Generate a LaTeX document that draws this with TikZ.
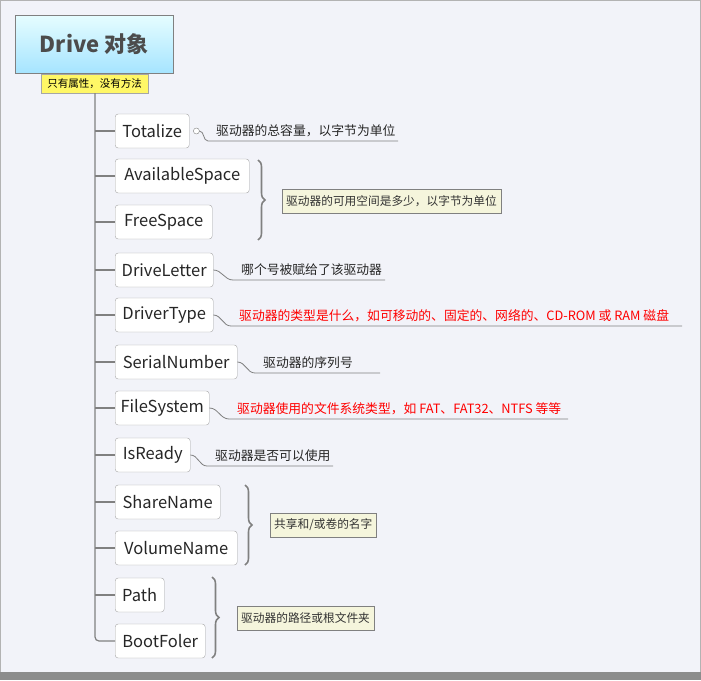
\documentclass[tikz,border=0pt]{standalone}
\usepackage{fontspec}
\setmainfont{Noto Sans CJK SC}
\usetikzlibrary{decorations.pathreplacing}
\definecolor{bg}{HTML}{F2F3F9}
\definecolor{ln}{HTML}{808080}
\definecolor{cb}{HTML}{F5F5DC}
\begin{document}
\begin{tikzpicture}[x=1pt,y=-1pt,
 child/.style={draw=ln!70,fill=white,rounded corners=3pt,minimum height=34pt,anchor=west,inner xsep=5pt,font=\fontsize{16.5}{18}\selectfont,text=black!85},
 note/.style={anchor=west,font=\fontsize{12.8}{14}\selectfont,text=black!85,inner sep=1pt},
 rnote/.style={note,text=red},
 nbox/.style={draw=ln,fill=cb,anchor=west,font=\fontsize{11.7}{13}\selectfont,text=black!80,minimum height=24pt,inner xsep=4pt},
 br/.style={draw=ln,line width=1.6pt,decorate,decoration={brace,amplitude=7pt}},
 ul/.style={draw=ln,line width=0.8pt}]
\fill[bg] (0,0) rectangle (701,680);
\draw[ln!60] (0.5,0.5) rectangle (700.5,672);
\fill[black!45] (0,672) rectangle (701,680);
\node[draw=ln,top color=blue!8!cyan!10,bottom color=blue!30!cyan!35,minimum width=158pt,minimum height=58pt,anchor=north west,font=\fontsize{22}{24}\selectfont\bfseries,text=black!70] (root) at (15,15) {Drive 对象};
\node[draw=ln!70,fill=yellow!60,anchor=north west,minimum width=107pt,minimum height=19pt,inner sep=1pt,font=\fontsize{10.5}{12}\selectfont] (lab) at (41,74) {只有属性，没有方法};
\coordinate (t0) at (95,93);
\foreach \n/\t/\y/\w in {a/Totalize/131/74,b/AvailableSpace/176/134,c/FreeSpace/222/97,d/DriveLetter/270/98,e/DriverType/315/98,f/SerialNumber/362/122,g/FileSystem/408/94,h/IsReady/455/75,i/ShareName/502/105,j/VolumeName/548/122,k/Path/595/49}{
 \node[child,minimum width=\w pt] (\n) at (115,\y) {\t};
 \draw[ln,line width=1.2pt] (95,\y) -- (\n.west);
}
\node[child,minimum width=90pt] (l) at (115,641) {BootFoler};
\draw[ln,line width=1.2pt,rounded corners=4pt] (t0) |- (l.west);
% underline notes
\node[note] (na) at (215,131) {驱动器的总容量，以字节为单位};
\draw[ln,fill=white] (a.east) ++(7,0) circle (3pt);
\draw[ul] ([xshift=10pt]a.east) to[out=0,in=180] (208,141) -- (398,141);
\node[note] (nd) at (240,270) {哪个号被赋给了该驱动器};
\draw[ul] (d.east) to[out=0,in=180] (233,280) -- (385,280);
\node[rnote] (ne) at (238,316) {驱动器的类型是什么，如可移动的、固定的、网络的、CD-ROM 或 RAM 磁盘};
\draw[ul] (e.east) to[out=0,in=180] (231,326) -- (682,326);
\node[note] (nf) at (262,363) {驱动器的序列号};
\draw[ul] (f.east) to[out=0,in=180] (255,373) -- (380,373);
\node[rnote] (ng) at (236,409) {驱动器使用的文件系统类型，如 FAT、FAT32、NTFS 等等};
\draw[ul] (g.east) to[out=0,in=180] (229,419) -- (568,419);
\node[note] (nh) at (214,456) {驱动器是否可以使用};
\draw[ul] (h.east) to[out=0,in=180] (207,466) -- (333,466);
% braces
\draw[br] (258,160) -- (258,240);
\node[nbox] (nb) at (282,201) {驱动器的可用空间是多少，以字节为单位};
\draw[br] (245,485) -- (245,565);
\node[nbox] (ni) at (270,525) {共享和/或卷的名字};
\draw[br] (212,577) -- (212,658);
\node[nbox] (nk) at (237,618) {驱动器的路径或根文件夹};
\end{tikzpicture}
\end{document}
